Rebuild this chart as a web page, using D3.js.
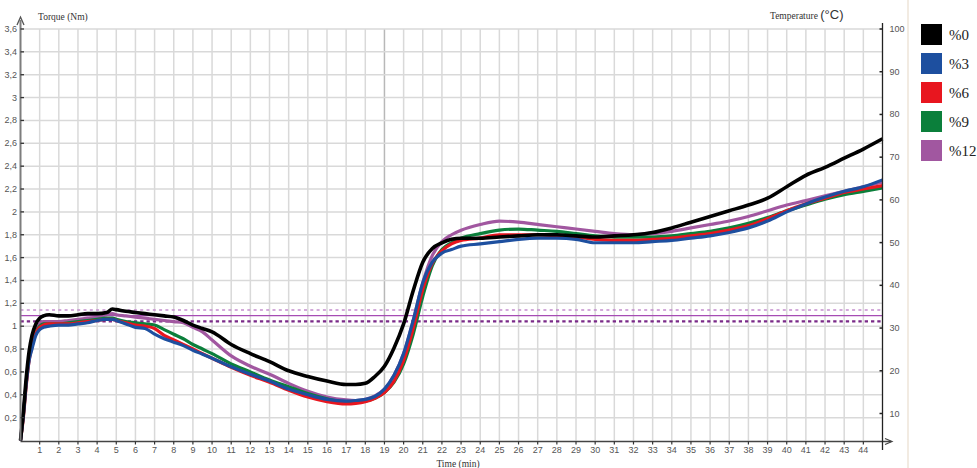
<!DOCTYPE html>
<html><head><meta charset="utf-8">
<script src="https://cdn.jsdelivr.net/npm/d3@7"></script>
<style>
html,body{margin:0;padding:0;background:#fff;}
svg{display:block;}
</style></head>
<body>
<svg id="chart" width="977" height="468"></svg>
<script>
const times = [0,0.15,0.3,0.45,0.6,0.8,1.0,1.2,1.5,2,2.5,3,3.5,4,4.5,4.8,5,5.5,6,6.5,7,7.5,8,8.5,9,9.5,10,11,12,13,14,15,16,17,17.5,18,18.5,19,19.5,20,20.5,21,21.5,22,22.5,23,24,25,26,27,28,29,30,31,32,33,34,35,36,37,38,39,40,41,42,43,44,45];
const torque0  = [0,0.25,0.55,0.78,0.92,1.02,1.07,1.09,1.10,1.09,1.09,1.10,1.11,1.11,1.12,1.15,1.145,1.13,1.12,1.11,1.10,1.09,1.08,1.05,1.01,0.98,0.95,0.84,0.76,0.69,0.61,0.56,0.52,0.49,0.49,0.50,0.56,0.65,0.81,1.02,1.31,1.56,1.68,1.73,1.76,1.77,1.77,1.78,1.79,1.80,1.80,1.79,1.78,1.79,1.80,1.82,1.86,1.91,1.96,2.01,2.06,2.12,2.22,2.32,2.39,2.47,2.55,2.64];
const torque3  = [0,0.22,0.50,0.70,0.80,0.92,0.97,0.99,1.00,1.01,1.01,1.02,1.03,1.05,1.06,1.06,1.05,1.02,0.99,0.98,0.93,0.89,0.86,0.83,0.79,0.755,0.72,0.645,0.58,0.52,0.45,0.40,0.36,0.345,0.35,0.36,0.385,0.45,0.57,0.76,1.05,1.38,1.56,1.64,1.67,1.70,1.72,1.74,1.76,1.77,1.77,1.76,1.73,1.73,1.73,1.74,1.75,1.77,1.79,1.82,1.86,1.92,2.00,2.07,2.13,2.18,2.22,2.28];
const torque6  = [0,0.20,0.48,0.70,0.82,0.94,0.99,1.01,1.02,1.02,1.02,1.03,1.04,1.05,1.06,1.06,1.05,1.03,1.01,1.00,0.98,0.92,0.88,0.84,0.80,0.76,0.72,0.64,0.57,0.51,0.44,0.38,0.34,0.32,0.325,0.34,0.37,0.42,0.52,0.70,0.98,1.32,1.55,1.66,1.72,1.75,1.77,1.80,1.80,1.80,1.79,1.78,1.76,1.75,1.75,1.76,1.77,1.79,1.81,1.84,1.88,1.94,2.01,2.07,2.12,2.17,2.20,2.23];
const torque9  = [0,0.22,0.50,0.72,0.83,0.95,1.00,1.02,1.02,1.02,1.03,1.04,1.05,1.06,1.07,1.07,1.06,1.04,1.03,1.02,1.01,0.97,0.93,0.89,0.84,0.80,0.76,0.67,0.60,0.53,0.47,0.41,0.365,0.335,0.335,0.345,0.37,0.42,0.51,0.67,0.93,1.26,1.53,1.67,1.73,1.77,1.81,1.84,1.85,1.84,1.83,1.81,1.79,1.78,1.78,1.78,1.79,1.81,1.83,1.86,1.90,1.95,2.01,2.06,2.11,2.15,2.18,2.21];
const torque12 = [0,0.24,0.52,0.74,0.86,0.97,1.02,1.04,1.04,1.04,1.05,1.06,1.07,1.08,1.10,1.11,1.10,1.09,1.08,1.07,1.06,1.05,1.04,1.03,0.99,0.95,0.88,0.74,0.65,0.58,0.50,0.43,0.38,0.355,0.35,0.36,0.39,0.45,0.57,0.76,1.05,1.38,1.62,1.74,1.80,1.84,1.89,1.92,1.91,1.89,1.87,1.85,1.83,1.81,1.80,1.81,1.83,1.86,1.89,1.92,1.96,2.01,2.06,2.10,2.14,2.18,2.22,2.26];

const seriesNames  = ["%0","%3","%6","%9","%12"];
const seriesColors = ["#000000","#1d4f9f","#e8161f","#0b7f3b","#a157a0"];
const seriesValues = [torque0, torque3, torque6, torque9, torque12];
const drawOrder    = [4,3,2,1,0];

const xTicks    = d3.range(1,45);
const yTicks    = [0.2,0.4,0.6,0.8,1,1.2,1.4,1.6,1.8,2,2.2,2.4,2.6,2.8,3,3.2,3.4,3.6];
const tempTicks = [10,20,30,40,50,60,70,80,90,100];
const refLines  = [1.142, 1.092, 1.043];

const svg = d3.select("#chart");
const x  = d3.scaleLinear().domain([0,45]).range([20.5,882.5]);
const y  = d3.scaleLinear().domain([0,3.6]).range([440.5,29]);
const yT = d3.scaleLinear().domain([10,100]).range([413.5,29]);
const fmt = d => String(d).replace(".", ",");

// grid
const grid = svg.append("g");
grid.selectAll("line.v").data(xTicks).join("line")
  .attr("x1", d=>x(d)).attr("x2", d=>x(d)).attr("y1", y(3.6)).attr("y2", y(0))
  .attr("stroke", d => d===19 ? "#b8b8b8" : "#d9d9d9").attr("stroke-width", 1.5);
grid.selectAll("line.h").data(yTicks).join("line")
  .attr("x1", x(0)).attr("x2", x(45)).attr("y1", d=>y(d)).attr("y2", d=>y(d))
  .attr("stroke", "#d9d9d9").attr("stroke-width", 1.5);

// reference lines
const refStyles = [
  {c:"#c58fce", w:1.6, dash:"3,3.3"},
  {c:"#a64cb4", w:1.3, dash:null},
  {c:"#7a2a88", w:2.2, dash:"3.3,3"}
];
svg.append("g").selectAll("line").data(refLines).join("line")
  .attr("x1", x(0)).attr("x2", x(45)).attr("y1", d=>y(d)).attr("y2", d=>y(d))
  .attr("stroke", (d,i)=>refStyles[i].c).attr("stroke-width", (d,i)=>refStyles[i].w)
  .attr("stroke-dasharray", (d,i)=>refStyles[i].dash);

// curves
const line = d3.line().x((d,i)=>x(times[i])).y(d=>y(d)).curve(d3.curveMonotoneX);
svg.append("g").selectAll("path").data(drawOrder).join("path")
  .attr("d", k => line(seriesValues[k]))
  .attr("fill","none").attr("stroke", k=>seriesColors[k])
  .attr("stroke-width", k => k===0 ? 3.6 : 3.2).attr("stroke-linejoin","round");

// left axis
const la = svg.append("g");
la.append("line").attr("x1",x(0)).attr("x2",x(0)).attr("y1",20).attr("y2",y(0))
  .attr("stroke","#7d7d7d").attr("stroke-width",2);
la.append("path").attr("d",`M${x(0)-3.5},${25} L${x(0)},${17} L${x(0)+3.5},${25}`)
  .attr("fill","none").attr("stroke","#555").attr("stroke-width",1.3);
la.selectAll("line.t").data(yTicks).join("line")
  .attr("x1",x(0)).attr("x2",x(0)+3.5).attr("y1",d=>y(d)).attr("y2",d=>y(d))
  .attr("stroke","#333").attr("stroke-width",1.3);
la.selectAll("text").data(yTicks).join("text")
  .attr("x",17).attr("y",d=>y(d)+3).attr("text-anchor","end")
  .attr("font-family","Liberation Sans, Arial, sans-serif").attr("font-size",9).attr("fill","#555")
  .text(fmt);

// bottom axis
const ba = svg.append("g");
ba.append("line").attr("x1",x(0)).attr("x2",891).attr("y1",441.5).attr("y2",441.5)
  .attr("stroke","#444").attr("stroke-width",1.3);
ba.append("path").attr("d",`M885,438.5 L892,441.5 L885,444.5`)
  .attr("fill","none").attr("stroke","#444").attr("stroke-width",1.2);
ba.selectAll("line.t").data(xTicks).join("line")
  .attr("x1",d=>x(d)).attr("x2",d=>x(d)).attr("y1",441.5).attr("y2",444.5)
  .attr("stroke","#333").attr("stroke-width",1.2);
ba.selectAll("text").data(xTicks).join("text")
  .attr("x",d=>x(d)).attr("y",453).attr("text-anchor","middle")
  .attr("font-family","Liberation Sans, Arial, sans-serif").attr("font-size",9).attr("fill","#555")
  .text(d=>d);

// right axis
const ra = svg.append("g");
const rx = x(45);
ra.append("line").attr("x1",rx).attr("x2",rx).attr("y1",23).attr("y2",450)
  .attr("stroke","#222").attr("stroke-width",1.3);
ra.selectAll("line.t").data(tempTicks).join("line")
  .attr("x1",rx-3).attr("x2",rx).attr("y1",d=>yT(d)).attr("y2",d=>yT(d))
  .attr("stroke","#222").attr("stroke-width",1.5);
ra.selectAll("text").data(tempTicks).join("text")
  .attr("x",rx+7).attr("y",d=>yT(d)+3)
  .attr("font-family","Liberation Sans, Arial, sans-serif").attr("font-size",9).attr("fill","#555")
  .text(d=>d);

// titles
svg.append("text").attr("x",38).attr("y",20)
  .attr("font-family","Liberation Serif, Times New Roman, serif").attr("font-size",9.5).attr("fill","#333")
  .text("Torque (Nm)");
const tt = svg.append("text").attr("x",770).attr("y",19)
  .attr("font-family","Liberation Serif, Times New Roman, serif").attr("font-size",9.5).attr("fill","#333");
tt.append("tspan").text("Temperature ");
tt.append("tspan").attr("font-family","Liberation Sans, Arial, sans-serif").attr("font-size",13).text("(°C)");
svg.append("text").attr("x",458).attr("y",467).attr("text-anchor","middle")
  .attr("font-family","Liberation Serif, Times New Roman, serif").attr("font-size",9.5).attr("fill","#333")
  .text("Time (min)");

// legend
svg.append("line").attr("x1",908).attr("x2",908).attr("y1",0).attr("y2",468)
  .attr("stroke","#f2ebe2").attr("stroke-width",2);
const lg = svg.append("g").selectAll("g").data(seriesNames).join("g")
  .attr("transform",(d,i)=>`translate(921,${24+i*29})`);
lg.append("rect").attr("width",21).attr("height",21).attr("fill",(d,i)=>seriesColors[i]);
lg.append("text").attr("x",28).attr("y",16)
  .attr("font-family","Liberation Serif, Times New Roman, serif").attr("font-size",15).attr("fill","#222")
  .text(d=>d);
</script>
</body></html>
